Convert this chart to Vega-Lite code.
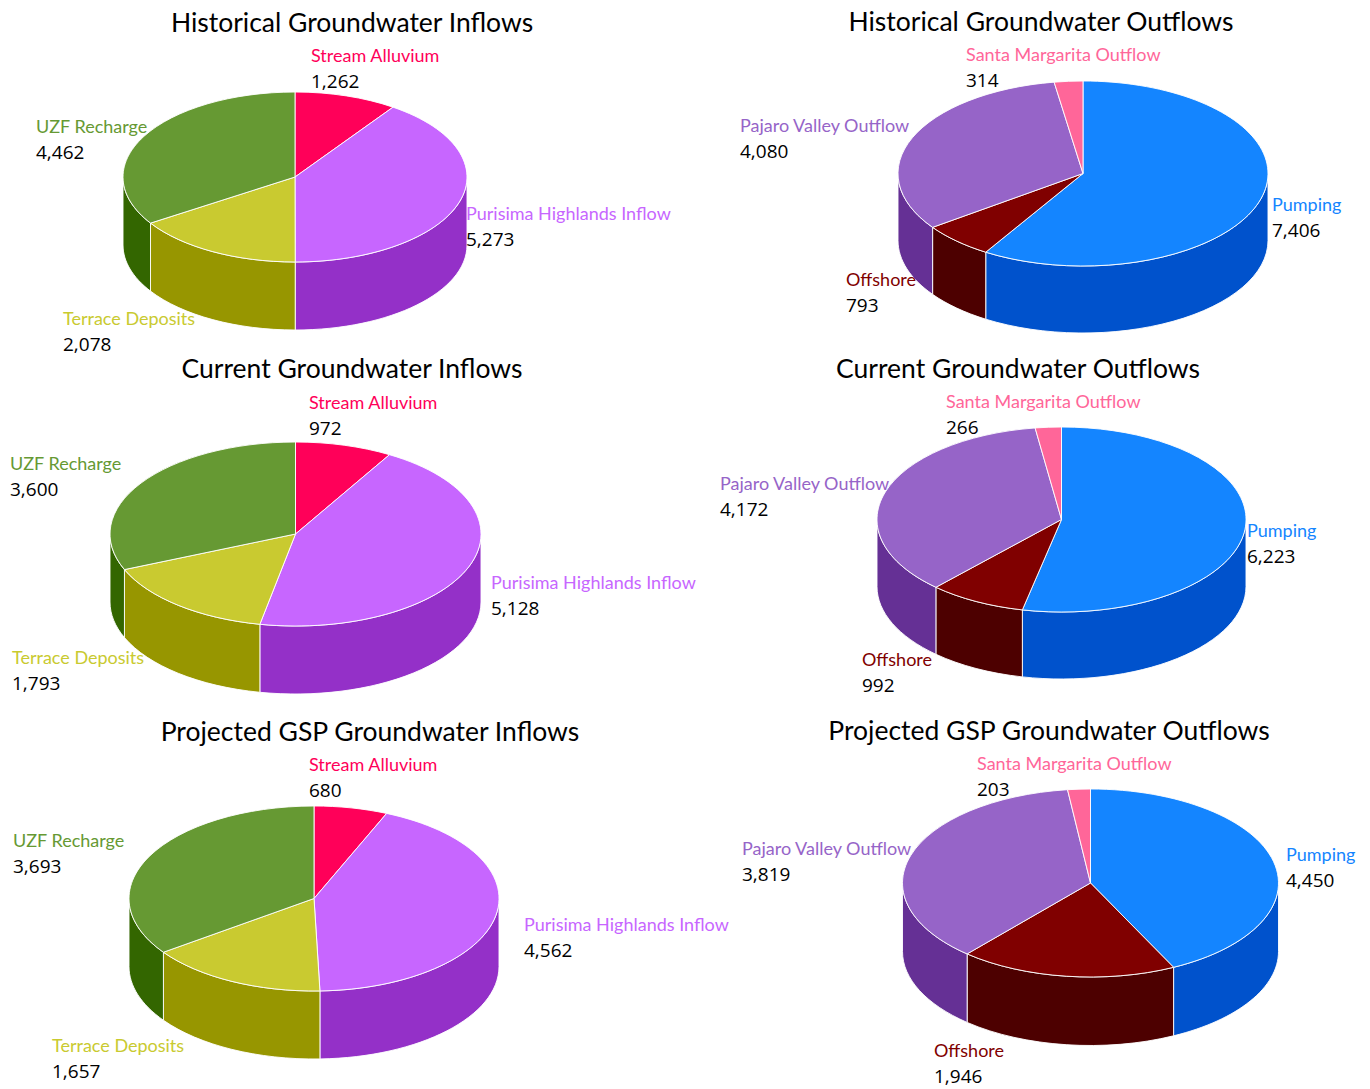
{"$schema":"https://vega.github.io/schema/vega-lite/v6.json","width":1370,"height":1089,"padding":0,"autosize":{"type":"fit","contains":"padding"},"background":"white","config":{"view":{"stroke":null}},
"params":[
{"name":"pies","value":{
"Historical Groundwater Inflows":{"cx":295,"cy":177,"rx":172,"ry":85,"d":68,"tx":352,"ty":23},
"Current Groundwater Inflows":{"cx":295.5,"cy":534,"rx":185.5,"ry":92,"d":68,"tx":352,"ty":369},
"Projected GSP Groundwater Inflows":{"cx":314,"cy":898.5,"rx":185,"ry":92.5,"d":68,"tx":370,"ty":732},
"Historical Groundwater Outflows":{"cx":1083,"cy":173.5,"rx":185,"ry":92.5,"d":67,"tx":1041,"ty":22},
"Current Groundwater Outflows":{"cx":1061.5,"cy":519.5,"rx":184.5,"ry":92.5,"d":67,"tx":1018,"ty":369},
"Projected GSP Groundwater Outflows":{"cx":1090.5,"cy":883,"rx":188,"ry":94,"d":68.5,"tx":1049,"ty":731}}},
{"name":"anchors","value":{
"Historical Groundwater Inflows":{"Stream Alluvium":[311,56],"Purisima Highlands Inflow":[466,214],"Terrace Deposits":[63,319],"UZF Recharge":[36,127]},
"Current Groundwater Inflows":{"Stream Alluvium":[309,403],"Purisima Highlands Inflow":[491,583],"Terrace Deposits":[12,658],"UZF Recharge":[10,464]},
"Projected GSP Groundwater Inflows":{"Stream Alluvium":[309,765],"Purisima Highlands Inflow":[524,925],"Terrace Deposits":[52,1046],"UZF Recharge":[13,841]},
"Historical Groundwater Outflows":{"Pumping":[1272,205],"Offshore":[846,280],"Pajaro Valley Outflow":[740,126],"Santa Margarita Outflow":[966,55]},
"Current Groundwater Outflows":{"Pumping":[1247,531],"Offshore":[862,660],"Pajaro Valley Outflow":[720,484],"Santa Margarita Outflow":[946,402]},
"Projected GSP Groundwater Outflows":{"Pumping":[1286,855],"Offshore":[934,1051],"Pajaro Valley Outflow":[742,849],"Santa Margarita Outflow":[977,764]}}}
],
"datasets":{
"slices":[
{"chart":"Historical Groundwater Inflows","slice":"Stream Alluvium","seq":1,"value":1262},
{"chart":"Historical Groundwater Inflows","slice":"Purisima Highlands Inflow","seq":2,"value":5273},
{"chart":"Historical Groundwater Inflows","slice":"Terrace Deposits","seq":3,"value":2078},
{"chart":"Historical Groundwater Inflows","slice":"UZF Recharge","seq":4,"value":4462},
{"chart":"Current Groundwater Inflows","slice":"Stream Alluvium","seq":1,"value":972},
{"chart":"Current Groundwater Inflows","slice":"Purisima Highlands Inflow","seq":2,"value":5128},
{"chart":"Current Groundwater Inflows","slice":"Terrace Deposits","seq":3,"value":1793},
{"chart":"Current Groundwater Inflows","slice":"UZF Recharge","seq":4,"value":3600},
{"chart":"Projected GSP Groundwater Inflows","slice":"Stream Alluvium","seq":1,"value":680},
{"chart":"Projected GSP Groundwater Inflows","slice":"Purisima Highlands Inflow","seq":2,"value":4562},
{"chart":"Projected GSP Groundwater Inflows","slice":"Terrace Deposits","seq":3,"value":1657},
{"chart":"Projected GSP Groundwater Inflows","slice":"UZF Recharge","seq":4,"value":3693},
{"chart":"Historical Groundwater Outflows","slice":"Pumping","seq":1,"value":7406},
{"chart":"Historical Groundwater Outflows","slice":"Offshore","seq":2,"value":793},
{"chart":"Historical Groundwater Outflows","slice":"Pajaro Valley Outflow","seq":3,"value":4080},
{"chart":"Historical Groundwater Outflows","slice":"Santa Margarita Outflow","seq":4,"value":314},
{"chart":"Current Groundwater Outflows","slice":"Pumping","seq":1,"value":6223},
{"chart":"Current Groundwater Outflows","slice":"Offshore","seq":2,"value":992},
{"chart":"Current Groundwater Outflows","slice":"Pajaro Valley Outflow","seq":3,"value":4172},
{"chart":"Current Groundwater Outflows","slice":"Santa Margarita Outflow","seq":4,"value":266},
{"chart":"Projected GSP Groundwater Outflows","slice":"Pumping","seq":1,"value":4450},
{"chart":"Projected GSP Groundwater Outflows","slice":"Offshore","seq":2,"value":1946},
{"chart":"Projected GSP Groundwater Outflows","slice":"Pajaro Valley Outflow","seq":3,"value":3819},
{"chart":"Projected GSP Groundwater Outflows","slice":"Santa Margarita Outflow","seq":4,"value":203}
],
"charts":[
{"chart":"Historical Groundwater Inflows"},{"chart":"Current Groundwater Inflows"},{"chart":"Projected GSP Groundwater Inflows"},
{"chart":"Historical Groundwater Outflows"},{"chart":"Current Groundwater Outflows"},{"chart":"Projected GSP Groundwater Outflows"}
]},
"data":{"name":"slices"},
"transform":[
{"joinaggregate":[{"op":"sum","field":"value","as":"total"}],"groupby":["chart"]},
{"window":[{"op":"sum","field":"value","as":"s1"}],"groupby":["chart"],"sort":[{"field":"seq","order":"ascending"}]},
{"calculate":"2*PI*(datum.s1-datum.value)/datum.total","as":"t0"},
{"calculate":"2*PI*datum.s1/datum.total","as":"t1"},
{"calculate":"pies[datum.chart].cx","as":"cx"},
{"calculate":"pies[datum.chart].cy","as":"cy"},
{"calculate":"pies[datum.chart].rx","as":"rx"},
{"calculate":"pies[datum.chart].ry","as":"ry"},
{"calculate":"pies[datum.chart].d","as":"depth"},
{"calculate":"anchors[datum.chart][datum.slice][0]","as":"lx"},
{"calculate":"anchors[datum.chart][datum.slice][1]+1","as":"ly"},
{"calculate":"datum.ly+25","as":"vy"},
{"calculate":"datum.slice+' side'","as":"sideKey"},
{"calculate":"'M0,0L'+round(100*datum.rx*sin(datum.t0))/100+','+round(-100*datum.ry*cos(datum.t0))/100+'A'+datum.rx+','+datum.ry+' 0 '+(datum.t1-datum.t0>PI?1:0)+' 1 '+round(100*datum.rx*sin(datum.t1))/100+','+round(-100*datum.ry*cos(datum.t1))/100+'Z'","as":"topPath"},
{"calculate":"max(datum.t0,PI/2)","as":"b0"},
{"calculate":"min(datum.t1,3*PI/2)","as":"b1"},
{"calculate":"datum.b1>datum.b0?'M'+round(100*datum.rx*sin(datum.b0))/100+','+round(-100*datum.ry*cos(datum.b0))/100+'A'+datum.rx+','+datum.ry+' 0 0 1 '+round(100*datum.rx*sin(datum.b1))/100+','+round(-100*datum.ry*cos(datum.b1))/100+'L'+round(100*datum.rx*sin(datum.b1))/100+','+(round(-100*datum.ry*cos(datum.b1))/100+datum.depth)+'A'+datum.rx+','+datum.ry+' 0 0 0 '+round(100*datum.rx*sin(datum.b0))/100+','+(round(-100*datum.ry*cos(datum.b0))/100+datum.depth)+'Z':'M0,0Z'","as":"sidePath"}
],
"encoding":{},
"layer":[
{"mark":{"type":"point","filled":true,"size":4,"opacity":1,"stroke":"white","strokeWidth":1,"strokeOpacity":0.9},
"encoding":{
"x":{"field":"cx","type":"quantitative","scale":{"domain":[0,1370],"nice":false,"zero":false},"axis":null},
"y":{"field":"cy","type":"quantitative","scale":{"domain":[1089,0],"nice":false,"zero":false},"axis":null},
"shape":{"field":"sidePath","type":"nominal","scale":null,"legend":null},
"color":{"field":"sideKey","type":"nominal","legend":null,"scale":{"domain":["Stream Alluvium","Purisima Highlands Inflow","Terrace Deposits","UZF Recharge","Pumping","Offshore","Pajaro Valley Outflow","Santa Margarita Outflow","Stream Alluvium side","Purisima Highlands Inflow side","Terrace Deposits side","UZF Recharge side","Pumping side","Offshore side","Pajaro Valley Outflow side","Santa Margarita Outflow side"],"range":["#FF0059","#C766FF","#C9CA30","#669933","#1485FF","#800000","#9664C8","#FF6699","#A80040","#9430C8","#979600","#336600","#0052CC","#4D0000","#653095","#C04070"]}}}},
{"mark":{"type":"point","filled":true,"size":4,"opacity":1,"stroke":"white","strokeWidth":1,"strokeOpacity":0.9},
"encoding":{
"x":{"field":"cx","type":"quantitative"},
"y":{"field":"cy","type":"quantitative"},
"shape":{"field":"topPath","type":"nominal","scale":null,"legend":null},
"color":{"field":"slice","type":"nominal","legend":null}}},
{"mark":{"type":"text","align":"left","baseline":"middle","font":"Lato","fontSize":18},
"encoding":{
"x":{"field":"lx","type":"quantitative"},
"y":{"field":"ly","type":"quantitative"},
"text":{"field":"slice","type":"nominal"},
"color":{"field":"slice","type":"nominal","legend":null}}},
{"mark":{"type":"text","align":"left","baseline":"middle","font":"Open Sans","fontSize":19,"fill":"black"},
"encoding":{
"x":{"field":"lx","type":"quantitative"},
"y":{"field":"vy","type":"quantitative"},
"text":{"field":"value","type":"quantitative","format":","}}},
{"data":{"name":"charts"},
"transform":[{"calculate":"pies[datum.chart].tx","as":"tx"},{"calculate":"pies[datum.chart].ty+1","as":"ty"}],
"mark":{"type":"text","align":"center","baseline":"middle","font":"Lato","fontSize":26.5,"fill":"black"},
"encoding":{
"x":{"field":"tx","type":"quantitative"},
"y":{"field":"ty","type":"quantitative"},
"text":{"field":"chart","type":"nominal"}}}
]}
